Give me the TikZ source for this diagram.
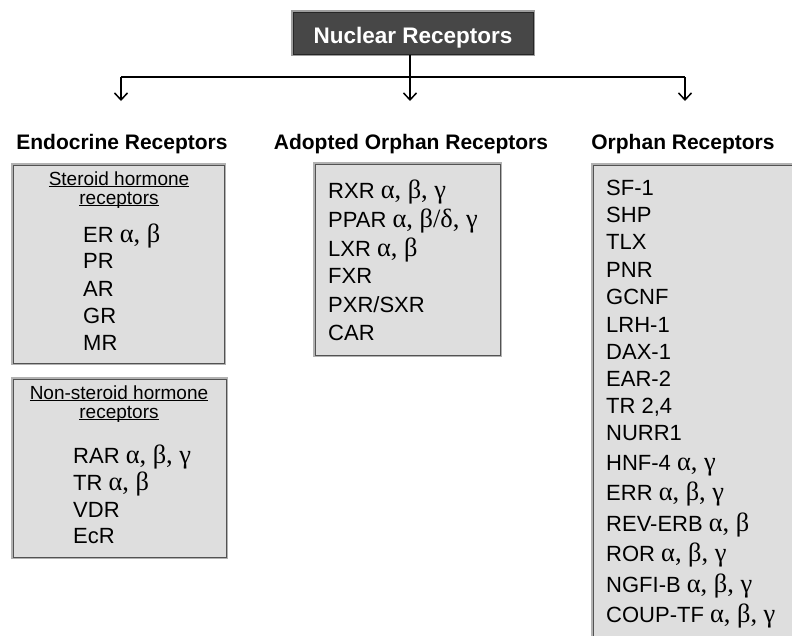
\documentclass[tikz,border=0pt]{standalone}
\usepackage{fontspec}
\setmainfont{Liberation Sans}
\newfontfamily\grk[Scale=1.2]{Liberation Serif}
\usetikzlibrary{arrows.meta}
\newcommand\gk[1]{{\grk #1}}
\newcommand\ulx[1]{\setbox0\hbox{#1}\rlap{\rule[-1.6pt]{\wd0}{0.9pt}}\box0}
\begin{document}
\begin{tikzpicture}[x=1pt,y=-1pt,
  gbox/.style={fill=black!13, draw=black!68, line width=0.9pt,
    preaction={draw=black!30, line width=3.6pt}, inner sep=0, outer sep=0, anchor=north west},
  item/.style={anchor=base west, inner sep=0, font=\fontsize{22}{26}\selectfont},
  ttl/.style={anchor=base, inner sep=0, font=\fontsize{19}{22}\selectfont},
  hd/.style={anchor=base, inner sep=0, font=\fontsize{21}{24}\selectfont\bfseries},
  conn/.style={line width=1.5pt},
  arr/.style={conn, -{Straight Barb[length=7pt,width=13pt]}}]
\useasboundingbox (0,0) rectangle (792,635);
\clip (0,0) rectangle (792,635);
\fill[white] (0,0) rectangle (792,635);

% top box
\node[fill=black!72, draw=black!85, line width=1pt,
  preaction={draw=black!38, line width=3.5pt},
  minimum width=240pt, minimum height=42pt, inner sep=0] (nr) at (413,33) {};
\node[anchor=base, text=white, inner sep=0,
  font=\fontsize{22.5}{26}\selectfont\bfseries] (nrt) at (413,43) {Nuclear Receptors};

% connectors
\coordinate (jL) at (121,77);
\coordinate (jM) at (410,77);
\coordinate (jR) at (685,77);
\coordinate (tL) at (121,101);
\coordinate (tM) at (410,101);
\coordinate (tR) at (685,101);
\draw[conn] (nr.south -| jM) -- (jM);
\draw[conn] (jL) -- (jR);
\draw[arr] (jL) -- (tL);
\draw[arr] (jM) -- (tM);
\draw[arr] (jR) -- (tR);

% headings
\node[hd] (hL) at (122,149) {Endocrine Receptors};
\node[hd] (hM) at (411,149) {Adopted Orphan Receptors};
\node[hd] (hR) at (683,149) {Orphan Receptors};

% boxes
\node[gbox, minimum width=211pt, minimum height=198pt] (bS) at (13,165) {};
\node[gbox, minimum width=213pt, minimum height=178pt] (bN) at (13,379) {};
\node[gbox, minimum width=185pt, minimum height=191pt] (bA) at (315,164) {};
\node[gbox, minimum width=220pt, minimum height=490pt] (bO) at (593,165) {};

% steroid
\node[ttl] (sT1) at (119,185) {\ulx{Steroid hormone}};
\node[ttl] (sT2) at (119,204) {\ulx{receptors}};
\node[item] (s1) at (83,242) {ER \gk{α, β}};
\node[item] (s2) at (83,268) {PR};
\node[item] (s3) at (83,296) {AR};
\node[item] (s4) at (83,323) {GR};
\node[item] (s5) at (83,350) {MR};

% non-steroid
\node[ttl] (nT1) at (119,399) {\ulx{Non-steroid hormone}};
\node[ttl] (nT2) at (119,418) {\ulx{receptors}};
\node[item] (n1) at (73,463) {RAR \gk{α, β, γ}};
\node[item] (n2) at (73,490) {TR \gk{α, β}};
\node[item] (n3) at (73,517) {VDR};
\node[item] (n4) at (73,543) {EcR};

% adopted orphan
\node[item] (a1) at (328,198) {RXR \gk{α, β, γ}};
\node[item] (a2) at (328,227) {PPAR \gk{α, β/δ, γ}};
\node[item] (a3) at (328,256) {LXR \gk{α, β}};
\node[item] (a4) at (328,283) {FXR};
\node[item] (a5) at (328,312) {PXR/SXR};
\node[item] (a6) at (328,340) {CAR};

% orphan
\node[item] (o1) at (606,195) {SF-1};
\node[item] (o2) at (606,222) {SHP};
\node[item] (o3) at (606,249) {TLX};
\node[item] (o4) at (606,277) {PNR};
\node[item] (o5) at (606,304) {GCNF};
\node[item] (o6) at (606,332) {LRH-1};
\node[item] (o7) at (606,359) {DAX-1};
\node[item] (o8) at (606,386) {EAR-2};
\node[item] (o9) at (606,413) {TR 2,4};
\node[item] (o10) at (606,440) {NURR1};
\node[item] (o11) at (606,470) {HNF-4 \gk{α, γ}};
\node[item] (o12) at (606,500) {ERR \gk{α, β, γ}};
\node[item] (o13) at (606,531) {REV-ERB \gk{α, β}};
\node[item] (o14) at (606,561) {ROR \gk{α, β, γ}};
\node[item] (o15) at (606,592) {NGFI-B \gk{α, β, γ}};
\node[item] (o16) at (606,622) {COUP-TF \gk{α, β, γ}};
\end{tikzpicture}
\end{document}
